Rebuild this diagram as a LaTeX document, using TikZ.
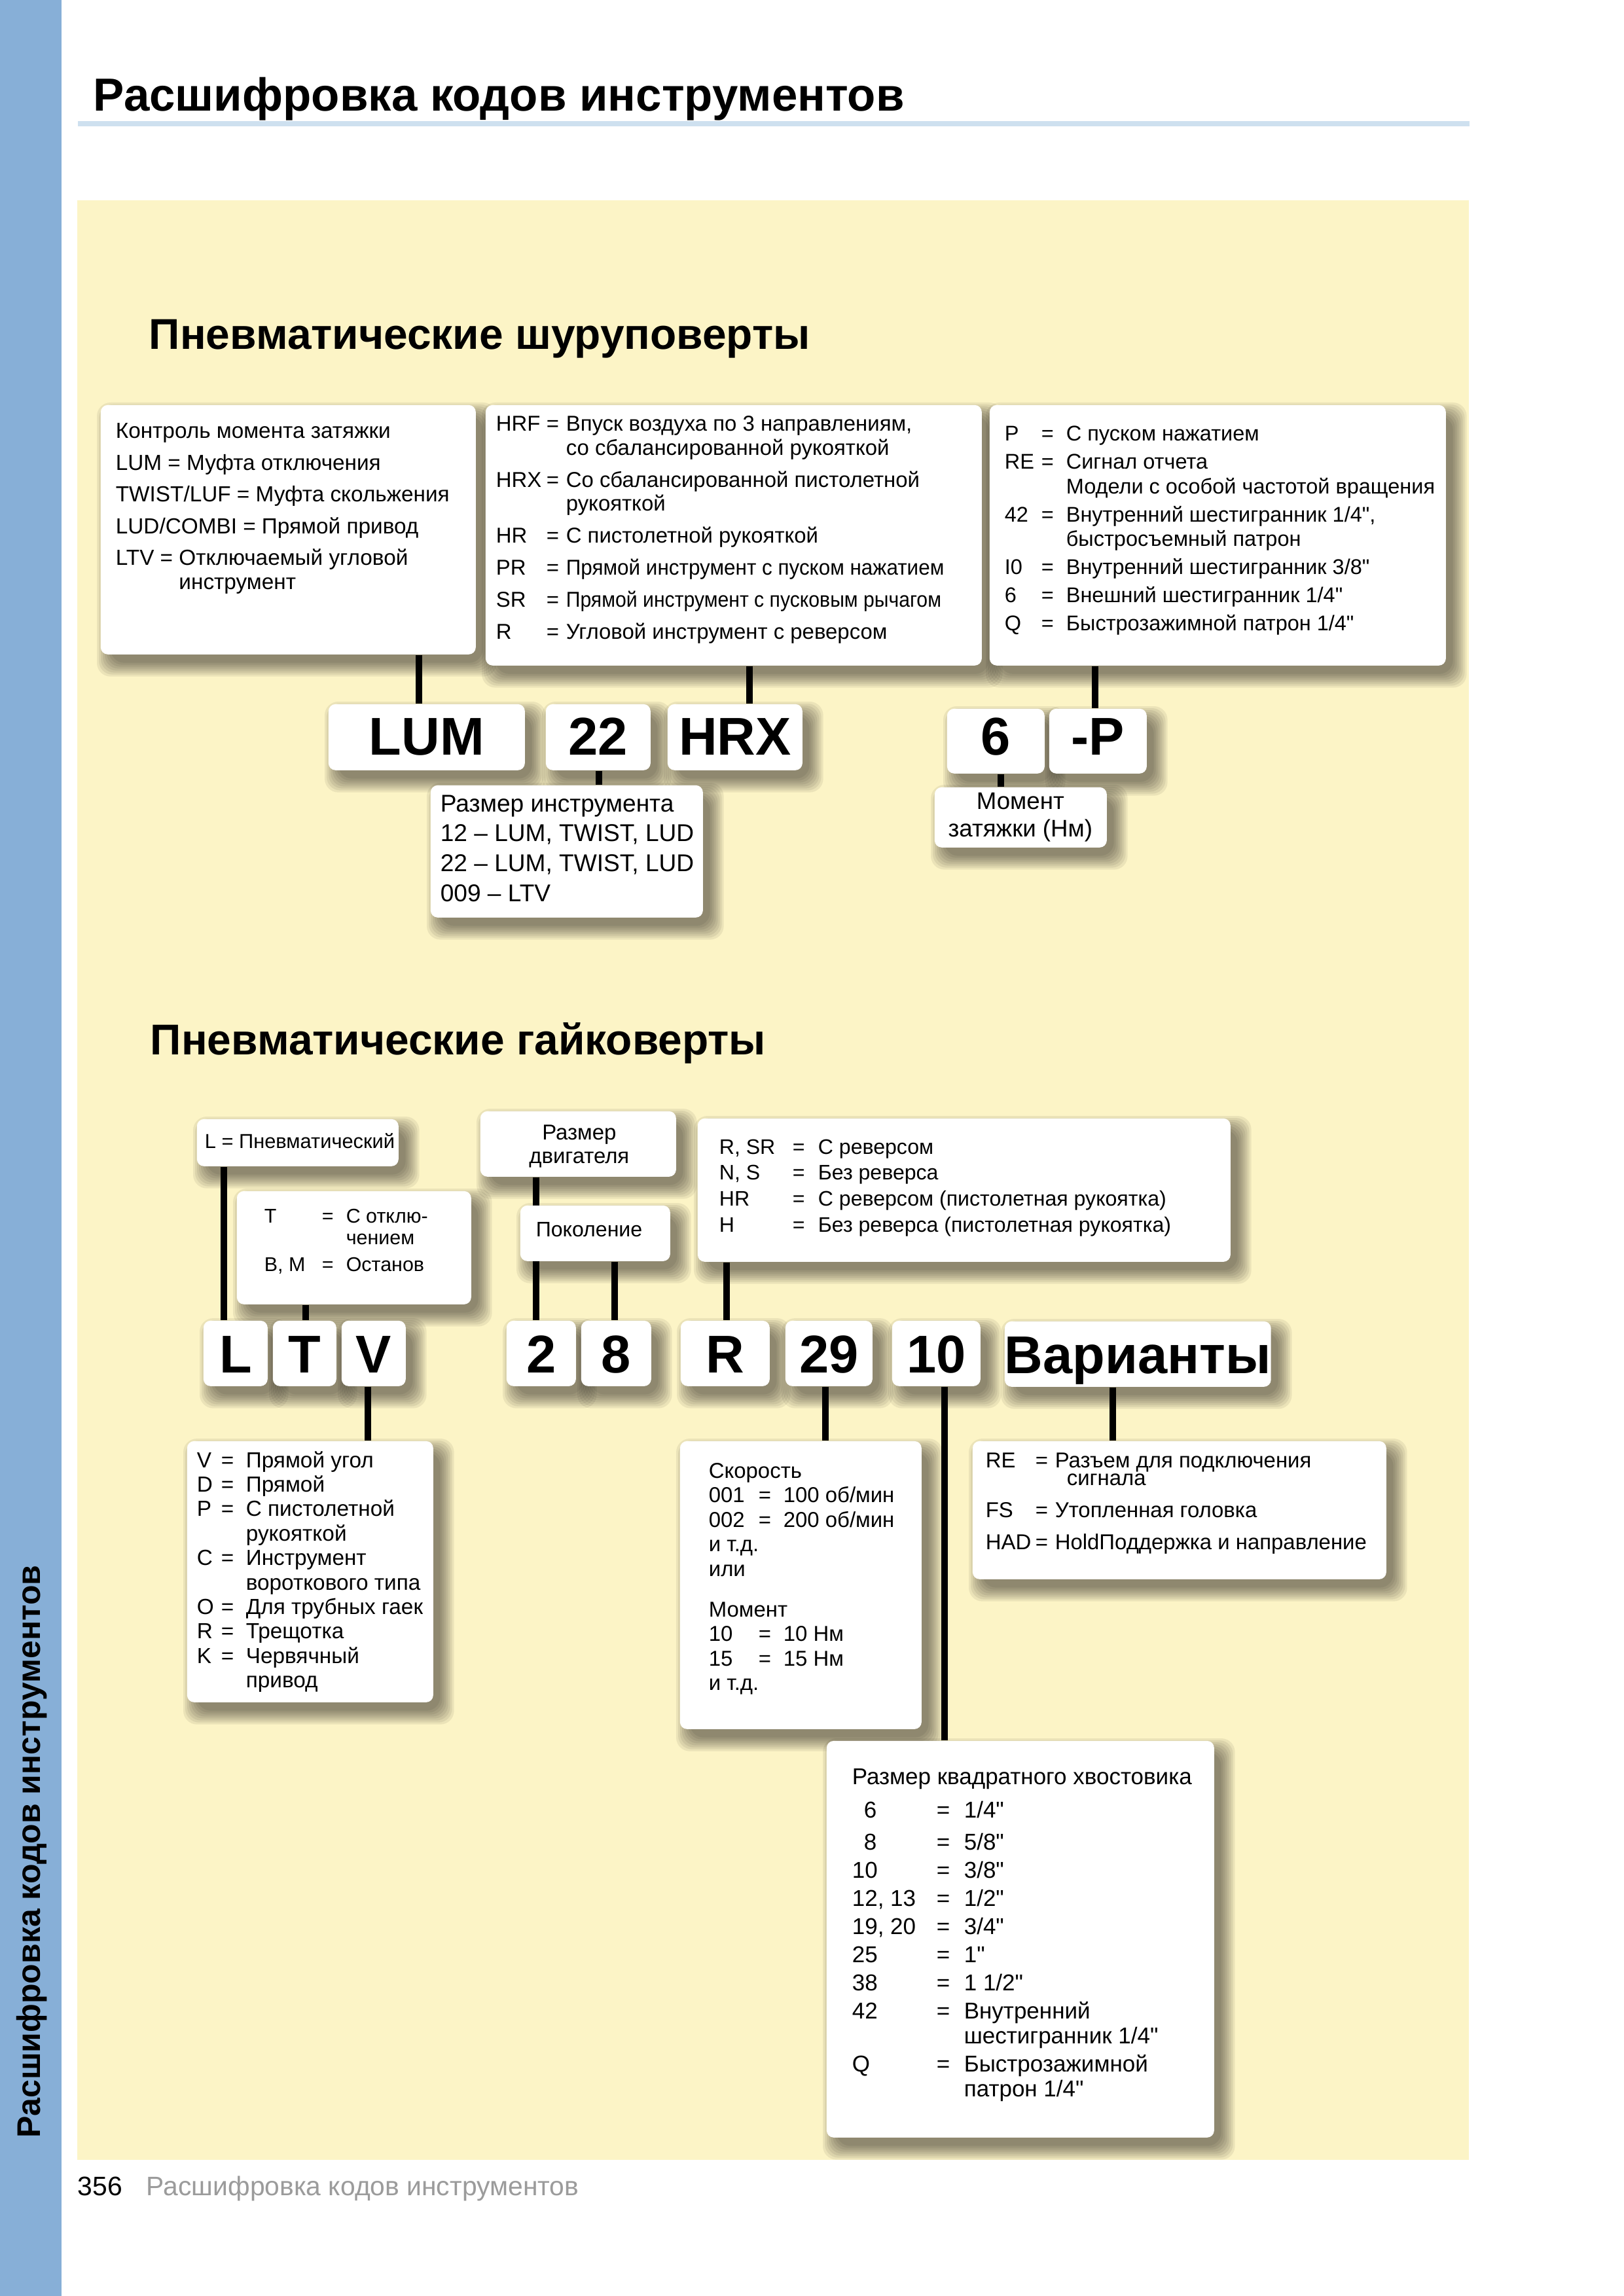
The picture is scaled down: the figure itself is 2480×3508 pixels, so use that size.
\documentclass[tikz,border=0pt]{standalone}
\usepackage{fontspec}
\usepackage{graphicx}
\setmainfont{Liberation Sans}[Ligatures=TeXOff]
\definecolor{sidebarblue}{RGB}{135,175,215}
\definecolor{ulineblue}{RGB}{206,224,239}
\definecolor{panelyellow}{RGB}{252,244,198}
\definecolor{footgrey}{RGB}{155,155,155}
\pgfdeclarelayer{back}
\pgfdeclarelayer{shade}
\pgfsetlayers{back,shade,main}
\newlength\kw \newlength\ew
\newcommand\kvrow[2]{\hbox{\makebox[\kw][l]{#1}\makebox[\ew][l]{=}#2}}
\newcommand\kvcont[1]{\hbox{\hspace{\dimexpr\kw+\ew\relax}#1}}
\newcommand\mkbox[7][]{%
  \node[boxs,#1,anchor=north west,minimum width={(#5-#3)*0.24pt},minimum height={(#6-#4)*0.24pt}] (#2) at (#3,#4) {#7};%
  \begin{pgfonlayer}{shade}%
    \foreach \e in {-3,0,...,18}{\fill[black,opacity=0.065,rounded corners=5pt] ([shift={(13-\e,15-\e)}]#2.north west) rectangle ([shift={(13+\e,15+\e)}]#2.south east);}%
  \end{pgfonlayer}}
\begin{document}
\begin{tikzpicture}[x=0.24pt, y=-0.24pt,
  boxs/.style={fill=white, rounded corners=2.6pt, inner sep=0pt},
  code/.style={font=\bfseries\fontsize{19.5}{20}\selectfont, text height=14pt, text depth=0pt},
  conn/.style={line width=2.2pt, black},
  txt/.style={anchor=base west, inner sep=0pt}]
\useasboundingbox (0,0) rectangle (2480,3508);
\begin{pgfonlayer}{back}
\fill[white] (0,0) rectangle (2480,3508);
\fill[sidebarblue] (0,0) rectangle (94,3508);
\fill[ulineblue] (119,185) rectangle (2245,193);
\fill[panelyellow] (118,306) rectangle (2244,3300);
\end{pgfonlayer}

% titles
\node[txt] (title) at (142,170) {\bfseries\fontsize{17}{20}\selectfont Расшифровка кодов инструментов};
\node[txt] (h1) at (227,534) {\bfseries\fontsize{15.8}{18}\selectfont Пневматические шуруповерты};
\node[txt] (h2) at (229,1611) {\bfseries\fontsize{15.8}{18}\selectfont Пневматические гайковерты};
\node[txt, rotate=90] (side) at (61,3267) {\bfseries\fontsize{12}{14}\selectfont Расшифровка кодов инструментов};
\node[txt] (pagenum) at (118,3354) {\fontsize{9.8}{11}\selectfont 356};
\node[txt, text=footgrey] (foot) at (223,3354) {\fontsize{9.8}{11}\selectfont Расшифровка кодов инструментов};

% ---------- section 1 ----------
\mkbox{b1}{153}{618}{726}{999}{}
\mkbox{b2}{741}{618}{1499}{1016}{}
\mkbox{b3}{1511}{618}{2208}{1016}{}
\mkbox[code,text depth=1pt]{LUM}{501}{1075}{801}{1176}{LUM}
\mkbox[code,text depth=1pt]{c22}{833}{1075}{993}{1176}{22}
\mkbox[code,text depth=1pt]{HRX}{1019}{1075}{1225}{1176}{HRX}
\mkbox[code,text depth=4pt]{c6}{1446}{1082}{1595}{1181}{6}
\mkbox[code,text depth=4pt]{cP}{1602}{1082}{1751}{1181}{-P}
\mkbox{size}{657}{1199}{1073}{1401}{}
\mkbox{mom}{1427}{1202}{1690}{1294}{}

\node[txt] (b1t) at (176,670) {\vtop{\fontsize{8}{11.64}\selectfont\lineskiplimit=-100pt
  \hbox{Контроль момента затяжки}
  \hbox{LUM = Муфта отключения}
  \hbox{TWIST/LUF = Муфта скольжения}
  \hbox{LUD/COMBI = Прямой привод}
  \hbox{LTV = Отключаемый угловой}\vskip-2.76pt
  \hbox{\phantom{LTV = }инструмент}}};

\node[txt] (b2t) at (757,659) {\setlength\kw{18.48pt}\setlength\ew{7.2pt}\vtop{\fontsize{7.9}{8.76}\selectfont\lineskiplimit=-100pt
  \kvrow{HRF}{Впуск воздуха по 3 направлениям,}
  \kvcont{со сбалансированной рукояткой}\vskip3pt
  \kvrow{HRX}{Со сбалансированной пистолетной}
  \kvcont{рукояткой}\vskip3pt
  \kvrow{HR}{С пистолетной рукояткой}\vskip3pt
  \kvrow{PR}{\scalebox{0.955}[1]{Прямой инструмент с пуском нажатием}}\vskip3pt
  \kvrow{SR}{\scalebox{0.917}[1]{Прямой инструмент с пусковым рычагом}}\vskip3pt
  \kvrow{R}{Угловой инструмент с реверсом}}};

\node[txt] (b3t) at (1534,674) {\setlength\kw{13.44pt}\setlength\ew{9.12pt}\vtop{\fontsize{7.8}{9}\selectfont\lineskiplimit=-100pt
  \kvrow{P}{С пуском нажатием}\vskip1.32pt
  \kvrow{RE}{Сигнал отчета}
  \kvcont{Модели с особой частотой вращения}\vskip1.32pt
  \kvrow{42}{Внутренний шестигранник 1/4",}
  \kvcont{быстросъемный патрон}\vskip1.32pt
  \kvrow{I0}{Внутренний шестигранник 3/8"}\vskip1.32pt
  \kvrow{6}{Внешний шестигранник 1/4"}\vskip1.32pt
  \kvrow{Q}{Быстрозажимной патрон 1/4"}}};

\node[txt] (sizet) at (672,1240) {\vtop{\fontsize{8.9}{10.97}\selectfont\lineskiplimit=-100pt
  \hbox{Размер инструмента}
  \hbox{12 – LUM, TWIST, LUD}
  \hbox{22 – LUM, TWIST, LUD}
  \hbox{009 – LTV}}};

\node[txt] (momt) at (1428,1236) {\vtop{\fontsize{8.8}{10.08}\selectfont\lineskiplimit=-100pt
  \hbox to 62.4pt{\hss Момент\hss}
  \hbox to 62.4pt{\hss затяжки (Нм)\hss}}};

\coordinate (xLUM) at (640,0);
\coordinate (xHRX) at (1145,0);
\coordinate (xP) at (1673,0);
\coordinate (x22) at (915,0);
\coordinate (x6) at (1529,0);
\begin{pgfonlayer}{back}
\draw[conn] (b1.south -| xLUM) -- (LUM.north -| xLUM);
\draw[conn] (b2.south -| xHRX) -- (HRX.north -| xHRX);
\draw[conn] (b3.south -| xP) -- (cP.north -| xP);
\draw[conn] (c22.south -| x22) -- (size.north -| x22);
\draw[conn] (c6.south -| x6) -- (mom.north -| x6);
\end{pgfonlayer}

% ---------- section 2 ----------
\mkbox{lb}{300}{1709}{608}{1781}{}
\mkbox{tb}{361}{1819}{719}{1992}{}
\mkbox{rzb}{733}{1697}{1032}{1797}{}
\mkbox{pkb}{794}{1841}{1023}{1926}{}
\mkbox{rb}{1065}{1708}{1879}{1927}{}
\mkbox[code]{cL}{310}{2017}{408}{2117}{L}
\mkbox[code]{cT}{416}{2017}{513}{2117}{T}
\mkbox[code]{cV}{521}{2017}{619}{2117}{V}
\mkbox[code]{c2}{773}{2017}{879}{2117}{2}
\mkbox[code]{c8}{887}{2017}{994}{2117}{8}
\mkbox[code]{cR}{1039}{2017}{1175}{2117}{R}
\mkbox[code]{c29}{1199}{2017}{1332}{2117}{29}
\mkbox[code]{c10}{1362}{2017}{1497}{2117}{10}
\mkbox[code]{cVar}{1534}{2018}{1936}{2118}{Варианты}
\mkbox{vb}{285}{2201}{661}{2600}{}
\mkbox{skb}{1038}{2201}{1407}{2641}{}
\mkbox{reb}{1485}{2201}{2117}{2412}{}
\mkbox{sqb}{1262}{2659}{1854}{3265}{}

\node[txt] (lbt) at (312,1754) {\fontsize{7.4}{8}\selectfont L = Пневматический};

\node[txt] (tbt) at (403,1868) {\setlength\kw{21.12pt}\setlength\ew{8.88pt}\vtop{\fontsize{7.3}{7.92}\selectfont\lineskiplimit=-100pt
  \kvrow{T}{С отклю-}
  \kvcont{чением}\vskip1.92pt
  \kvrow{B, M}{Останов}}};

\node[txt] (rzt) at (764,1741) {\vtop{\fontsize{7.9}{8.64}\selectfont\lineskiplimit=-100pt
  \hbox to 57.6pt{\hss Размер\hss}
  \hbox to 57.6pt{\hss двигателя\hss}}};

\node[anchor=base, inner sep=0pt] (pkt) at (900,1889) {\fontsize{7.7}{8}\selectfont Поколение};

\node[txt] (rbt) at (1098,1763) {\setlength\kw{26.88pt}\setlength\ew{9.36pt}\vtop{\fontsize{7.7}{9.52}\selectfont\lineskiplimit=-100pt
  \kvrow{R, SR}{С реверсом}
  \kvrow{N, S}{Без реверса}
  \kvrow{HR}{С реверсом (пистолетная рукоятка)}
  \kvrow{H}{Без реверса (пистолетная рукоятка)}}};

\node[txt] (vbt) at (300,2242) {\setlength\kw{8.88pt}\setlength\ew{9.12pt}\vtop{\fontsize{8}{8.98}\selectfont\lineskiplimit=-100pt
  \kvrow{V}{Прямой угол}
  \kvrow{D}{Прямой}
  \kvrow{P}{С пистолетной}
  \kvcont{рукояткой}
  \kvrow{C}{Инструмент}
  \kvcont{вороткового типа}
  \kvrow{O}{Для трубных гаек}
  \kvrow{R}{Трещотка}
  \kvrow{K}{Червячный}
  \kvcont{привод}}};

\node[txt] (skt) at (1082,2258) {\setlength\kw{18.24pt}\setlength\ew{9.12pt}\vtop{\fontsize{7.9}{9}\selectfont\lineskiplimit=-100pt
  \hbox{Скорость}
  \kvrow{001}{100 об/мин}
  \kvrow{002}{200 об/мин}
  \hbox{и т.д.}
  \hbox{или}\vskip5.9pt
  \hbox{Момент}
  \kvrow{10}{10 Нм}
  \kvrow{15}{15 Нм}
  \hbox{и т.д.}}};

\node[txt] (rebt) at (1505,2242) {\setlength\kw{18.24pt}\setlength\ew{7.2pt}\vtop{\fontsize{7.9}{6.48}\selectfont\lineskiplimit=-100pt
  \kvrow{RE}{Разъем для подключения}
  \hbox{\hspace{29.76pt}сигнала}\vskip5.28pt
  \kvrow{FS}{Утопленная головка}\vskip5.5pt
  \kvrow{HAD}{HoldПоддержка и направление}}};

\node[txt] (sqt) at (1301,2726) {\setlength\kw{30.96pt}\setlength\ew{10.08pt}\vtop{\fontsize{8.4}{10.32}\selectfont\lineskiplimit=-100pt
  \hbox{Размер квадратного хвостовика}\vskip1.92pt
  \kvrow{\hspace{4.32pt}6}{1/4"}\vskip1.44pt
  \kvrow{\hspace{4.32pt}8}{5/8"}
  \kvrow{10}{3/8"}
  \kvrow{12, 13}{1/2"}
  \kvrow{19, 20}{3/4"}
  \kvrow{25}{1"}
  \kvrow{38}{1 1/2"}
  \kvrow{42}{Внутренний}\vskip-1.1pt
  \kvcont{шестигранник 1/4"}
  \kvrow{Q}{Быстрозажимной}\vskip-1.1pt
  \kvcont{патрон 1/4"}}};

\coordinate (xL) at (342,0);
\coordinate (xT) at (467,0);
\coordinate (x2) at (819,0);
\coordinate (x8) at (939,0);
\coordinate (xR) at (1110,0);
\coordinate (xV) at (562,0);
\coordinate (x29) at (1261,0);
\coordinate (x10) at (1443,0);
\coordinate (xVar) at (1700,0);
\begin{pgfonlayer}{back}
\draw[conn] (lb.south -| xL) -- (cL.north -| xL);
\draw[conn] (tb.south -| xT) -- (cT.north -| xT);
\draw[conn] (rzb.south -| x2) -- (c2.north -| x2);
\draw[conn] (pkb.south -| x8) -- (c8.north -| x8);
\draw[conn] (rb.south -| xR) -- (cR.north -| xR);
\draw[conn] (cV.south -| xV) -- (vb.north -| xV);
\draw[conn] (c29.south -| x29) -- (skb.north -| x29);
\draw[conn] (c10.south -| x10) -- (sqb.north -| x10);
\draw[conn] (cVar.south -| xVar) -- (reb.north -| xVar);
\end{pgfonlayer}
\end{tikzpicture}
\end{document}
